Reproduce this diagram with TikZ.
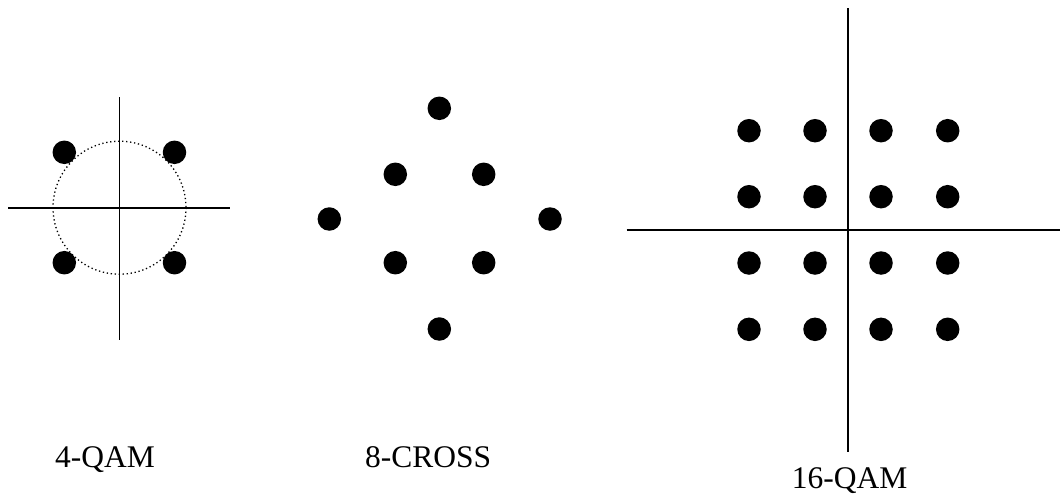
\documentclass[tikz,border=0pt]{standalone}
\usepackage{fontspec}
\setmainfont{Liberation Serif}
\begin{document}
\begin{tikzpicture}[x=1pt,y=-1pt,
  pt/.style={circle,fill=black,inner sep=0pt,minimum size=23.5pt},
  axis/.style={line width=1.6pt},
  lbl/.style={anchor=base west,inner sep=0pt,font=\fontsize{31.5}{36}\selectfont}]
\useasboundingbox (0,0) rectangle (1060,498);
% 4-QAM
\coordinate (a4l) at (8,207.7);
\coordinate (a4r) at (230,207.7);
\coordinate (a4t) at (119.5,97);
\coordinate (a4b) at (119.5,340);
\coordinate (c4) at (119.5,207.7);
\draw[line width=1.3pt,dash pattern=on 1.3pt off 2.7pt] (c4) circle[radius=66.5];
\draw[axis] (a4l) -- (a4r);
\draw[axis] (a4t) -- (a4b);
\node[pt] (q1) at (64.3,152.3) {};
\node[pt] (q2) at (174.5,152.3) {};
\node[pt] (q3) at (64.3,262.7) {};
\node[pt] (q4) at (174.5,262.7) {};
\node[lbl] (t4) at (55,467) {4-QAM};
% 8-CROSS
\node[pt] (c1) at (439.3,108.3) {};
\node[pt] (c2) at (395.3,174.3) {};
\node[pt] (c3) at (483.7,174.3) {};
\node[pt] (c4n) at (329.3,219) {};
\node[pt] (c5) at (550,219) {};
\node[pt] (c6) at (395.3,262.7) {};
\node[pt] (c7) at (483.7,262.7) {};
\node[pt] (c8) at (439.3,329) {};
\node[lbl] (t8) at (365,467) {8-CROSS};
% 16-QAM
\coordinate (a16l) at (626.7,229.7);
\coordinate (a16r) at (1060,229.7);
\coordinate (a16t) at (847.7,8.3);
\coordinate (a16b) at (847.7,451.7);
\draw[axis] (a16l) -- (a16r);
\draw[axis] (a16t) -- (a16b);
\foreach \x [count=\i] in {749,815,881,947.7}
  \foreach \y [count=\j] in {130.7,196.7,263,329.3}
    \node[pt] (s\i\j) at (\x,\y) {};
\node[lbl] (t16) at (791.7,488) {16-QAM};
\end{tikzpicture}
\end{document}
